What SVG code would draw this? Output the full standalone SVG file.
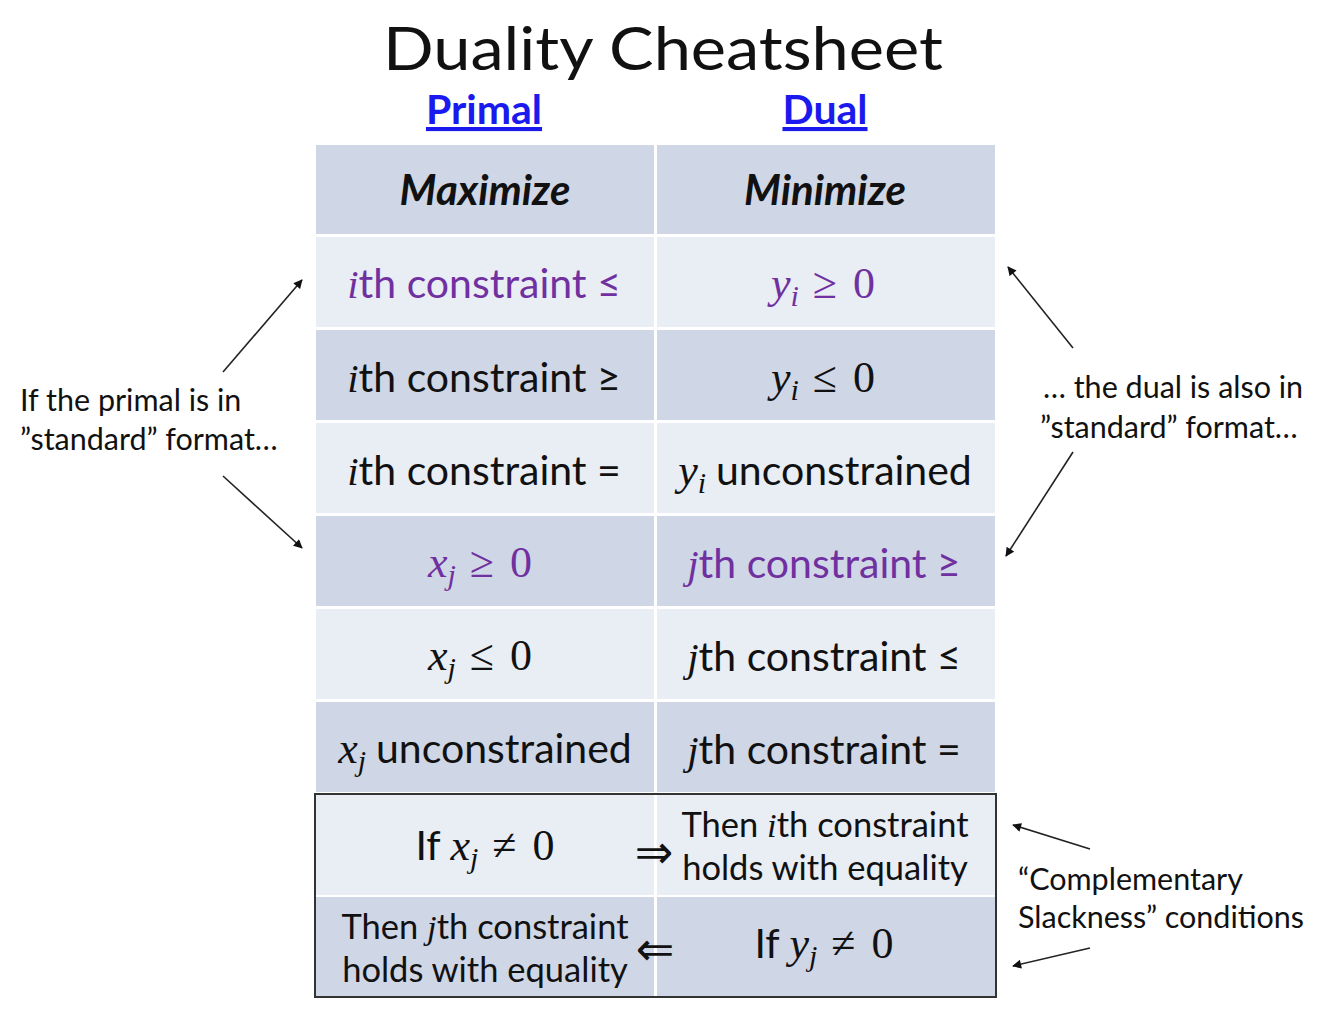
<svg xmlns="http://www.w3.org/2000/svg" width="1321" height="1012" viewBox="0 0 1321 1012">
<style>
.t{font-family:Lato,"Noto Sans","Liberation Sans",sans-serif;fill:#111}
.cell{font-size:41px;text-anchor:middle}
.hd{font-size:42px;font-weight:bold;font-style:italic;text-anchor:middle}
.sm{font-size:34.5px}
.side{font-size:30.5px}
.purple{fill:#7030a0}
.mi{font-family:"Liberation Serif","DejaVu Serif",serif;font-style:italic}
.mr{font-family:"Liberation Serif","DejaVu Serif",serif}
.m{font-size:44px}
.sub{font-size:30px}
.arr{font-family:"DejaVu Sans",sans-serif;font-size:46px;text-anchor:middle}
.dk{fill:#cfd6e5}
.lt{fill:#e9edf4}
.link{font-size:41px;font-weight:bold;fill:#1a1aee;text-decoration:underline;text-anchor:middle}
.conn line{stroke:#222;stroke-width:1.6;marker-end:url(#ah)}
</style>
<defs>
<marker id="ah" viewBox="0 0 10 10" refX="9" refY="5" markerWidth="10" markerHeight="9" orient="auto" markerUnits="userSpaceOnUse">
<path d="M0,0 L10,5 L0,10 z" fill="#111"/>
</marker>
</defs>
<rect width="1321" height="1012" fill="#fff"/>
<g id="title"><text class="t" x="663" y="70" font-size="60" text-anchor="middle" textLength="560" lengthAdjust="spacingAndGlyphs">Duality Cheatsheet</text></g>
<g id="col-primal"><text class="t link" x="484" y="124">Primal</text></g>
<g id="col-dual"><text class="t link" x="825" y="124">Dual</text></g>

<g id="header">
<rect class="dk" x="316" y="145" width="338" height="89"/>
<rect class="dk" x="657" y="145" width="338" height="89"/>
<text class="t hd" x="485" y="205">Maximize</text>
<text class="t hd" x="825" y="205">Minimize</text>
</g>

<g id="row1">
<rect class="lt" x="316" y="237" width="338" height="90"/>
<rect class="lt" x="657" y="237" width="338" height="90"/>
<text class="t cell purple" x="484" y="298"><tspan class="mi">i</tspan>th constraint ≤</text>
<text class="t cell purple" x="823" y="298"><tspan class="mi m">y</tspan><tspan class="mi sub" dy="8">i</tspan><tspan class="mr m" dy="-8" dx="14">≥</tspan><tspan class="mr m" dx="16">0</tspan></text>
</g>

<g id="row2">
<rect class="dk" x="316" y="330" width="338" height="90"/>
<rect class="dk" x="657" y="330" width="338" height="90"/>
<text class="t cell" x="484" y="392"><tspan class="mi">i</tspan>th constraint ≥</text>
<text class="t cell" x="823" y="392"><tspan class="mi m">y</tspan><tspan class="mi sub" dy="8">i</tspan><tspan class="mr m" dy="-8" dx="14">≤</tspan><tspan class="mr m" dx="16">0</tspan></text>
</g>

<g id="row3">
<rect class="lt" x="316" y="423" width="338" height="90"/>
<rect class="lt" x="657" y="423" width="338" height="90"/>
<text class="t cell" x="484" y="485"><tspan class="mi">i</tspan>th constraint =</text>
<text class="t cell" x="825" y="485"><tspan class="mi m">y</tspan><tspan class="mi sub" dy="8">i</tspan><tspan dy="-8" dx="10">unconstrained</tspan></text>
</g>

<g id="row4">
<rect class="dk" x="316" y="516" width="338" height="90"/>
<rect class="dk" x="657" y="516" width="338" height="90"/>
<text class="t cell purple" x="480" y="577"><tspan class="mi m">x</tspan><tspan class="mi sub" dy="8">j</tspan><tspan class="mr m" dy="-8" dx="14">≥</tspan><tspan class="mr m" dx="16">0</tspan></text>
<text class="t cell purple" x="824" y="578"><tspan class="mi">j</tspan>th constraint ≥</text>
</g>

<g id="row5">
<rect class="lt" x="316" y="609" width="338" height="90"/>
<rect class="lt" x="657" y="609" width="338" height="90"/>
<text class="t cell" x="480" y="670"><tspan class="mi m">x</tspan><tspan class="mi sub" dy="8">j</tspan><tspan class="mr m" dy="-8" dx="14">≤</tspan><tspan class="mr m" dx="16">0</tspan></text>
<text class="t cell" x="824" y="671"><tspan class="mi">j</tspan>th constraint ≤</text>
</g>

<g id="row6">
<rect class="dk" x="316" y="702" width="338" height="90"/>
<rect class="dk" x="657" y="702" width="338" height="90"/>
<text class="t cell" x="485" y="763"><tspan class="mi m">x</tspan><tspan class="mi sub" dy="8">j</tspan><tspan dy="-8" dx="10">unconstrained</tspan></text>
<text class="t cell" x="824" y="764"><tspan class="mi">j</tspan>th constraint =</text>
</g>

<g id="row7">
<rect class="lt" x="316" y="795" width="338" height="100"/>
<rect class="lt" x="657" y="795" width="338" height="100"/>
<text class="t cell" x="485" y="860">If <tspan class="mi m">x</tspan><tspan class="mi sub" dy="8">j</tspan><tspan class="mr m" dy="-8" dx="14">≠</tspan><tspan class="mr m" dx="16">0</tspan></text>
<text class="t arr" x="654" y="868">⇒</text>
<text class="t sm" x="825" y="837" text-anchor="middle">Then <tspan class="mi">i</tspan>th constraint</text>
<text class="t sm" x="825" y="880" text-anchor="middle">holds with equality</text>
</g>

<g id="row8">
<rect class="dk" x="316" y="897" width="338" height="99"/>
<rect class="dk" x="657" y="897" width="338" height="99"/>
<text class="t sm" x="485" y="939" text-anchor="middle">Then <tspan class="mi">j</tspan>th constraint</text>
<text class="t sm" x="485" y="982" text-anchor="middle">holds with equality</text>
<text class="t arr" x="655" y="965">⇐</text>
<text class="t cell" x="824" y="958" font-size="36">If <tspan class="mi m">y</tspan><tspan class="mi sub" dy="8">j</tspan><tspan class="mr m" dy="-8" dx="14">≠</tspan><tspan class="mr m" dx="16">0</tspan></text>
</g>

<g id="cs-box"><rect x="315" y="794" width="681" height="203" fill="none" stroke="#333" stroke-width="2"/></g>

<g id="note-primal">
<text class="t side" x="20" y="411">If the primal is in</text>
<text class="t side" x="20" y="450">”standard” format…</text>
</g>
<g id="note-dual">
<text class="t side" x="1043" y="398">… the dual is also in</text>
<text class="t side" x="1040" y="438">”standard” format…</text>
</g>
<g id="note-cs">
<text class="t side" x="1018" y="890">“Complementary</text>
<text class="t side" x="1018" y="928">Slackness” conditions</text>
</g>

<g id="connectors" class="conn">
<line x1="223" y1="372" x2="302" y2="280"/>
<line x1="223" y1="476" x2="302" y2="548"/>
<line x1="1073" y1="348" x2="1008" y2="267"/>
<line x1="1073" y1="452" x2="1006" y2="556"/>
<line x1="1090" y1="849" x2="1013" y2="825"/>
<line x1="1090" y1="948" x2="1013" y2="966"/>
</g>
</svg>
